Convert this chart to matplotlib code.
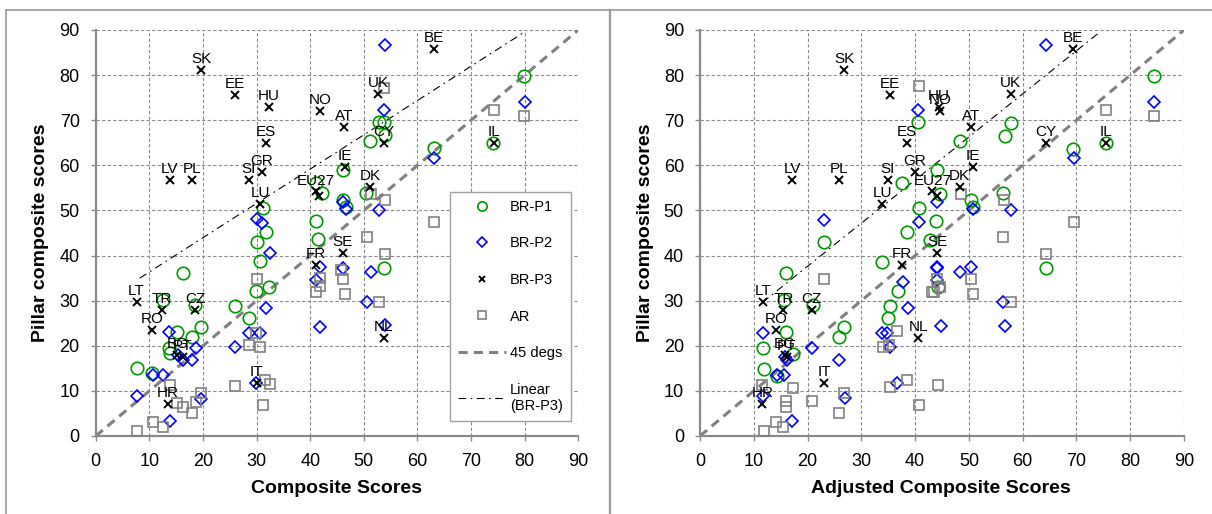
import numpy as np
import matplotlib
matplotlib.use("Agg")
from matplotlib import pyplot as plt
from matplotlib.lines import Line2D

plt.rcParams['font.family'] = ['Liberation Sans', 'DejaVu Sans']

# country codes of the BR-P3 points (same order in both panels)
codes = ['SK', 'EE', 'HU', 'NO', 'ES', 'GR', 'SI', 'LV', 'PL', 'LU', 'EU27', '',
         'BE', 'UK', 'AT', 'CY', 'IL', 'IE', 'DK', 'LT', 'TR', 'CZ', 'RO', 'BG',
         'PT', 'HR', 'IT', 'FR', 'SE', 'NL']

# pillar composite scores of BR-P3 (y, shared by both panels)
p3_y = [81.2, 75.7, 73.0, 72.1, 64.9, 58.6, 56.8, 56.7, 56.7, 51.4, 54.2, 53.2,
        85.7, 75.8, 68.4, 64.9, 64.9, 59.7, 55.1, 29.8, 27.9, 27.9, 23.5, 18.0,
        17.6, 7.2, 11.7, 37.9, 40.5, 21.7]

# ---- left panel: composite scores ----
p3_lx = [19.7, 26.0, 32.3, 41.9, 31.7, 31.0, 28.5, 13.8, 17.9, 30.7, 41.1, 41.6,
         63.0, 52.7, 46.3, 53.7, 74.2, 46.4, 51.2, 7.6, 12.4, 18.5, 10.5, 15.2,
         16.2, 13.5, 30.0, 41.1, 46.1, 53.7]

p1_lx = [41.1, 42.2, 31.2, 41.0, 31.7, 30.1, 41.4, 16.2, 30.6, 12.5, 18.5, 25.9,
         29.8, 32.3, 28.6, 19.7, 15.2, 18.0, 13.6, 13.8, 7.6, 10.5, 79.9, 52.9,
         53.7, 53.9, 51.2, 63.0, 74.0, 46.1, 50.4, 46.1, 46.6, 53.7]
p1_ly = [56.0, 53.8, 50.6, 47.7, 45.3, 42.9, 43.6, 36.1, 38.7, 30.2, 29.0, 28.8,
         32.2, 33.1, 26.1, 24.1, 23.1, 22.0, 19.4, 18.3, 15.0, 14.0, 79.7, 69.7,
         69.7, 66.7, 65.5, 63.8, 65.0, 59.0, 53.9, 52.3, 50.8, 37.3]

p2_lx = [53.9, 53.7, 80.1, 63.0, 46.1, 46.6, 52.8, 30.0, 31.0, 32.4, 31.7, 41.8,
         41.1, 41.9, 28.5, 30.6, 26.0, 13.6, 18.7, 18.0, 15.4, 16.3, 10.6, 12.6,
         7.6, 13.8, 19.7, 29.8, 46.2, 51.4, 50.6, 53.9]
p2_ly = [86.7, 72.3, 74.1, 61.6, 51.9, 50.3, 50.1, 48.0, 47.3, 40.5, 28.3, 37.5,
         34.6, 24.2, 22.8, 22.8, 19.8, 23.1, 19.4, 16.9, 18.0, 16.9, 13.5, 13.5,
         8.9, 3.4, 8.1, 11.8, 37.3, 36.4, 29.8, 24.6]

ar_lx = [53.7, 74.2, 79.9, 51.4, 53.9, 63.0, 50.6, 53.9, 46.2, 46.5, 52.8, 45.8,
         30.1, 41.8, 41.1, 41.9, 28.6, 30.6, 29.8, 26.0, 31.6, 32.4, 31.1, 15.2,
         16.3, 18.0, 18.7, 19.7, 10.6, 12.5, 7.6, 13.8]
ar_ly = [77.1, 72.3, 71.0, 53.7, 52.3, 47.4, 44.1, 40.4, 34.8, 31.5, 29.6, 36.8,
         34.7, 35.0, 32.0, 33.3, 20.2, 19.8, 22.8, 11.1, 12.4, 11.5, 6.9, 7.4,
         6.5, 5.0, 7.6, 9.5, 3.2, 2.1, 1.0, 11.3]

trend_lx = [8.2, 79.9]
trend_ly = [35.0, 89.5]

# ---- right panel: adjusted composite scores ----
p3_rx = [26.8, 35.3, 44.4, 44.6, 38.5, 40.0, 34.9, 17.2, 25.8, 33.9, 43.2, 44.0,
         69.4, 57.8, 50.4, 64.3, 75.5, 50.8, 48.3, 11.8, 15.5, 20.8, 14.1, 15.8,
         16.1, 11.6, 23.1, 37.6, 44.1, 40.6]

p1_rx = [40.6, 44.0, 37.6, 40.7, 43.8, 38.5, 23.0, 33.9, 15.9, 36.8, 35.3, 34.9,
         15.6, 21.0, 26.8, 25.8, 15.9, 11.8, 17.3, 11.9, 14.3, 84.4, 57.8, 56.7,
         48.3, 69.4, 75.5, 56.4, 44.6, 50.4, 50.8, 64.3, 44.3, 42.8]
p1_ry = [69.5, 59.0, 56.0, 50.6, 47.7, 45.3, 42.9, 38.6, 36.1, 32.2, 28.8, 26.2,
         30.2, 29.0, 24.1, 22.0, 23.0, 19.4, 18.2, 14.8, 13.3, 79.7, 69.3, 66.6,
         65.5, 63.6, 65.0, 53.9, 53.7, 52.3, 50.8, 37.3, 33.1, 43.5]

p2_rx = [64.3, 84.4, 69.5, 44.1, 50.8, 57.8, 40.6, 23.1, 40.7, 37.7, 38.6, 44.0,
         33.8, 34.7, 35.3, 44.0, 11.7, 20.8, 25.8, 15.8, 16.1, 14.3, 15.7, 11.7,
         17.2, 26.9, 36.7, 44.1, 48.3, 50.4, 56.4, 56.7, 44.8]
p2_ry = [86.7, 74.1, 61.6, 51.9, 50.3, 50.1, 72.3, 47.9, 47.4, 34.2, 28.3, 37.5,
         22.8, 22.8, 19.8, 34.6, 22.9, 19.4, 16.9, 17.6, 16.9, 13.5, 13.5, 8.9,
         3.4, 8.4, 11.8, 37.3, 36.4, 37.4, 29.8, 24.4, 24.4]

ar_rx = [75.5, 84.4, 48.5, 56.5, 69.5, 56.4, 40.7, 64.3, 50.4, 50.8, 57.8, 44.3,
         44.1, 44.6, 43.6, 23.0, 36.7, 34.0, 35.2, 43.2, 38.5, 35.3, 40.7, 20.8,
         26.8, 25.8, 17.3, 15.9, 15.9, 14.1, 15.5, 11.9, 11.5]
ar_ry = [72.3, 71.0, 53.7, 52.3, 47.4, 44.1, 77.5, 40.4, 34.8, 31.5, 29.6, 11.3,
         34.8, 33.1, 32.0, 34.7, 23.2, 19.8, 20.2, 32.0, 12.4, 10.9, 6.9, 7.8,
         9.5, 5.0, 10.7, 7.8, 6.5, 3.2, 2.1, 1.0, 11.3]

trend_rx = [11.6, 74.4]
trend_ry = [29.6, 89.6]

diag = [0, 90]
ticks = list(range(0, 100, 10))

GREEN = '#009900'
BLUE = '#0000FF'
GRAY = '#808080'
AXGRAY = '#8a8a8a'


def draw_panel(ax, p1x, p1y, p2x, p2y, p3x, arx, ary, tx, ty, xlabel):
    ax.plot(p1x, p1y, 'o', ms=9, mfc='none', mec=GREEN, mew=1.2, ls='none', label='BR-P1', zorder=3)
    ax.plot(p2x, p2y, 'D', ms=6.6, mfc='none', mec=BLUE, mew=1.2, ls='none', label='BR-P2', zorder=3)
    ax.plot(p3x, p3_y, 'x', ms=6, mec='black', mew=1.4, ls='none', label='BR-P3', zorder=4)
    ax.plot(arx, ary, 's', ms=7, mfc='none', mec=GRAY, mew=1.2, ls='none', label='AR', zorder=3)
    ax.plot(diag, diag, color=GRAY, lw=2.2, ls=(0, (3, 2)), label='45 degs', zorder=2)
    ax.plot(tx, ty, color='black', lw=0.8, ls=(0, (7, 4, 1.5, 4)), label='Linear\n(BR-P3)', zorder=2)

    for c, x, y in zip(codes, p3x, p3_y):
        if c:
            ax.annotate(c, (x, y), xytext=(0, 5), textcoords='offset points',
                        ha='center', va='baseline', fontsize=11, zorder=5)

    ax.set_xlim(0, 90)
    ax.set_ylim(0, 90)
    ax.set_xticks(ticks)
    ax.set_yticks(ticks)
    ax.grid(True, color=AXGRAY, lw=0.8, ls=(0, (3, 2)))
    ax.set_axisbelow(True)
    for s in ['top', 'right']:
        ax.spines[s].set_visible(False)
    for s in ['left', 'bottom']:
        ax.spines[s].set_color(AXGRAY)
        ax.spines[s].set_linewidth(1.6)
    ax.tick_params(colors=AXGRAY, labelcolor='black', labelsize=13, length=3.6, width=1)
    ax.tick_params(axis='x', pad=8.5)
    ax.tick_params(axis='y', pad=8)
    ax.set_xlabel(xlabel, fontsize=14, fontweight='bold')
    ax.set_ylabel('Pillar composite scores', fontsize=14, fontweight='bold')
    ax.xaxis.set_label_coords(0.498, -0.108)


fig = plt.figure(figsize=(12.12, 5.14), dpi=100)
ax1 = fig.add_axes([95.8 / 1212, 78 / 514, 482.5 / 1212, 406 / 514])
ax2 = fig.add_axes([700 / 1212, 78 / 514, 484 / 1212, 406 / 514])

draw_panel(ax1, p1_lx, p1_ly, p2_lx, p2_ly, p3_lx, ar_lx, ar_ly, trend_lx, trend_ly, 'Composite Scores')
draw_panel(ax2, p1_rx, p1_ry, p2_rx, p2_ry, p3_rx, ar_rx, ar_ry, trend_rx, trend_ry, 'Adjusted Composite Scores')
ax1.yaxis.set_label_coords(-0.097, 0.5)
ax2.yaxis.set_label_coords(-0.095, 0.5)

leg = ax1.legend(loc='lower right', bbox_to_anchor=(0.985, 0.037), borderaxespad=0,
                 fontsize=10.5, markerscale=0.75, labelspacing=1.55, handlelength=3.3,
                 handletextpad=0.3, borderpad=0.55, fancybox=False, framealpha=1)
leg.get_frame().set_edgecolor('#a0a0a0')
leg.get_frame().set_linewidth(1)

# chart-area frames
fc = '#9a9a9a'
fig.add_artist(Line2D([6 / 1212, 1], [504 / 514, 504 / 514], color=fc, lw=1.2))
fig.add_artist(Line2D([6 / 1212, 6 / 1212], [0, 504 / 514], color=fc, lw=1.2))
fig.add_artist(Line2D([610 / 1212, 610 / 1212], [0, 504 / 514], color=fc, lw=1.6))

fig.savefig('out.png', dpi=100)
